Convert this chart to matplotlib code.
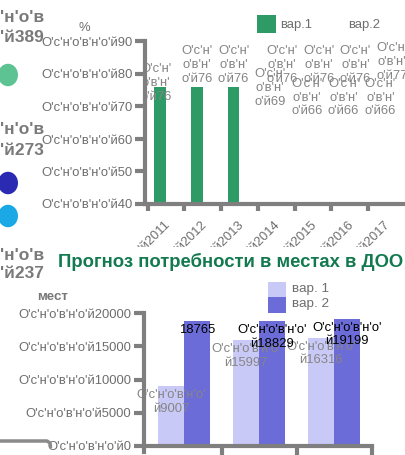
import matplotlib
matplotlib.use("Agg")
import matplotlib.pyplot as plt
from matplotlib.patches import Circle, Rectangle
from matplotlib.lines import Line2D
from matplotlib.transforms import Bbox

plt.rcParams['font.family'] = ['Liberation Sans', 'DejaVu Sans']

# ---------------- data ----------------
PREFIX = "О'с'н'о'в'н'о'й"
years = ["2011", "2012", "2013", "2014", "2015", "2016", "2017"]
top_var1 = [76, 76, 76, 69, 66, 66, 66]
top_var2 = [None, None, None, 76, 76, 76, 77]
top_yticks = [40, 50, 60, 70, 80, 90]
top_series = ["вар.1", "вар.2"]

bot_categories = ["2011", "2012", "2013"]
bot_var1 = [9007, 15997, 16316]
bot_var2 = [18765, 18829, 19199]
bot_yticks = [0, 5000, 10000, 15000, 20000]
bot_series = ["вар. 1", "вар. 2"]

side_values = ["389", "273", "237"]
title = "Прогноз потребности в местах в ДОО"

W, H = 405, 455
fig = plt.figure(figsize=(W / 100, H / 100), dpi=100)


def fx(px):
    return px / W


def fy(py):
    return 1 - py / H


GRAY = "#7f7f7f"
TXT = "#6e6e6e"
LBL = "#858585"
GREEN = "#2e9b67"
LAV = "#c9c9f7"
PURP = "#6c6cd9"
FS = 9.4

# ---------------- top chart ----------------
cw1 = 36.7
xl1 = (-0.5 - 2.7 / cw1, 6.5)
ax1 = fig.add_axes([fx(145), fy(204), fx((xl1[1] - xl1[0]) * cw1), (204 - 41.5) / H])
ax1.set_xlim(*xl1)
ax1.set_ylim(40, 90)
bw1 = 0.32
xs = list(range(len(years)))
ax1.bar([x - bw1 / 2 for x in xs[:3]], top_var1[:3], width=bw1, color=GREEN, zorder=2)
for s in ["top", "right"]:
    ax1.spines[s].set_visible(False)
for s in ["left", "bottom"]:
    ax1.spines[s].set_color(GRAY)
    ax1.spines[s].set_linewidth(3)
    ax1.spines[s].set_zorder(5)
ax1.set_yticks(top_yticks)
ax1.set_yticklabels([PREFIX + str(v) for v in top_yticks], color=TXT, fontsize=FS)
ax1.tick_params(axis='y', length=7, width=3, color=GRAY, pad=2)
ax1.set_xticks([x - 0.5 for x in xs])
ax1.set_xticklabels([])
ax1.tick_params(axis='x', length=5, width=3, color=GRAY)

clipbox = Bbox([[0, H - 247], [W, H]])
for i, y in enumerate(years):
    t = ax1.annotate(PREFIX + y, xy=(i, 40), xycoords='data', xytext=(-2, -15),
                     textcoords='offset pixels', rotation=45, rotation_mode='anchor',
                     ha='right', va='top', fontsize=FS, color=TXT, annotation_clip=False)
    t.set_clip_box(clipbox)
    t.set_clip_on(True)


def three_lines(v):
    return "О'с'н'\nо'в'н'\nо'й" + str(v)


for i, v in enumerate(top_var1):
    dx, dy = 0, 2
    if i == 0:
        dx, dy = -4, -16
    ax1.annotate(three_lines(v), xy=(i - bw1 / 2, v), xytext=(dx, dy),
                 textcoords='offset pixels', ha='center', va='bottom',
                 fontsize=FS, color=LBL, linespacing=1.2, annotation_clip=False,
                 clip_on=(i == 0), zorder=3)
for i, v in enumerate(top_var2):
    if v is None:
        continue
    ax1.annotate(three_lines(v), xy=(i + bw1 / 2, v), xytext=(0, 2),
                 textcoords='offset pixels', ha='center', va='bottom',
                 fontsize=FS, color=LBL, linespacing=1.2, annotation_clip=False, zorder=3)

# top legend
fig.patches.append(Rectangle((fx(257), fy(33)), fx(19), 18 / H, transform=fig.transFigure,
                             facecolor=GREEN, edgecolor='none'))
fig.text(fx(280), fy(25), top_series[0], color=TXT, fontsize=FS, va='center')
fig.text(fx(348), fy(25), top_series[1], color=TXT, fontsize=FS, va='center')
fig.text(fx(84), fy(28), "%", color=TXT, fontsize=FS, ha='center', va='center')

# ---------------- left clipped legend ----------------
side_y = [(17, 38), (130, 151), (256, 274)]
for (y1, y2), val in zip(side_y, side_values):
    fig.text(fx(0), fy(y1), "'н'о'в", color="#7a7a7a", fontsize=12.5, fontweight='bold',
             va='center', ha='left')
    fig.text(fx(0), fy(y2), "'й" + val, color="#7a7a7a", fontsize=12.5, fontweight='bold',
             va='center', ha='left')
for (cx, cy, col) in [(8, 75, "#5ec393"), (8, 183, "#2a2ab2"), (8, 216, "#1ba9e6")]:
    fig.patches.append(Circle((fx(cx), fy(cy)), 10 / W, transform=fig.transFigure,
                              facecolor=col, edgecolor='none'))

# title
fig.text(fx(231), fy(262), title, color="#137a50", fontsize=13.3, fontweight='bold',
         ha='center', va='center')

# ---------------- bottom chart ----------------
cw2 = 75.0
xl2 = (-0.5 - 2.7 / cw2, 2.5)
ax2 = fig.add_axes([fx(144), fy(445.7), fx((xl2[1] - xl2[0]) * cw2), (445.7 - 313.3) / H])
ax2.set_xlim(*xl2)
ax2.set_ylim(0, 20000)
bw2 = 0.345
xb = list(range(len(bot_categories)))
ax2.bar([x - bw2 / 2 for x in xb], bot_var1, width=bw2, color=LAV, zorder=2)
ax2.bar([x + bw2 / 2 for x in xb], bot_var2, width=bw2, color=PURP, zorder=2)
for s in ["top", "right"]:
    ax2.spines[s].set_visible(False)
for s in ["left", "bottom"]:
    ax2.spines[s].set_color(GRAY)
    ax2.spines[s].set_linewidth(3)
    ax2.spines[s].set_zorder(5)
ax2.spines['left'].set_bounds(-1000, 20000)
ax2.set_yticks(bot_yticks)
ax2.set_yticklabels([PREFIX + str(v) for v in bot_yticks], color=TXT, fontsize=FS)
ax2.tick_params(axis='y', length=7, width=3, color=GRAY, pad=2)
ax2.set_xticks([x + 0.5 for x in xb])
ax2.set_xticklabels([])
ax2.tick_params(axis='x', length=12, width=3, color=GRAY)

for i, v in enumerate(bot_var1):
    ax2.annotate("О'с'н'о'в'н'о'\nй" + str(v), xy=(i - bw2 / 2, v), xytext=(0, -3),
                 textcoords='offset pixels', ha='center', va='top', fontsize=FS,
                 color=LBL, linespacing=1.2, annotation_clip=False, zorder=3)
for i, v in enumerate(bot_var2):
    txt = str(v) if i == 0 else "О'с'н'о'в'н'о'\nй" + str(v)
    ax2.annotate(txt, xy=(i + bw2 / 2, v), xytext=(0, -3),
                 textcoords='offset pixels', ha='center', va='top', fontsize=FS,
                 color="black", linespacing=1.2, annotation_clip=False, zorder=3)

fig.text(fx(53), fy(297), "мест", color="#777777", fontsize=9.6, fontweight='bold',
         ha='center', va='center')

# bottom legend
fig.patches.append(Rectangle((fx(268), fy(297)), fx(18), 15 / H, transform=fig.transFigure,
                             facecolor=LAV, edgecolor='none'))
fig.patches.append(Rectangle((fx(268), fy(313)), fx(18), 16 / H, transform=fig.transFigure,
                             facecolor=PURP, edgecolor='none'))
fig.text(fx(292), fy(289), bot_series[0], color=TXT, fontsize=FS + 0.3, va='center')
fig.text(fx(292), fy(304.5), bot_series[1], color=TXT, fontsize=FS + 0.3, va='center')

# clipped connector line on the left
fig.lines.append(Line2D([fx(0), fx(47), fx(50), fx(50.5)], [fy(441), fy(441), fy(443), fy(447)],
                        transform=fig.transFigure, color="#8a8a8a", linewidth=2.5,
                        solid_capstyle='round', solid_joinstyle='round'))

fig.savefig("out.png", dpi=100)
